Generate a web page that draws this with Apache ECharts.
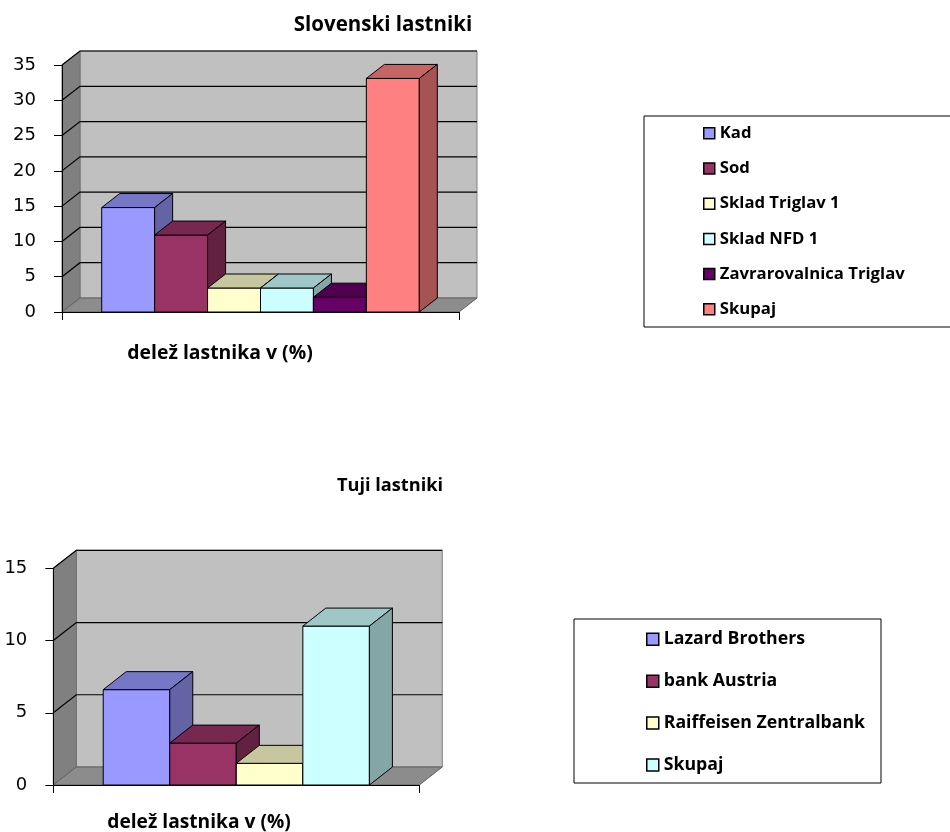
<!DOCTYPE html>
<html>
<head>
<meta charset="utf-8">
<script src="https://cdn.jsdelivr.net/npm/echarts@6/dist/echarts.min.js"></script>
<style>
  html, body { margin: 0; padding: 0; background: #fff; }
  #chart { width: 950px; height: 832px; }
</style>
</head>
<body>
<div id="chart"></div>
<script>
// Slovenski lastniki
const topNames = ['Kad', 'Sod', 'Sklad Triglav 1', 'Sklad NFD 1', 'Zavrarovalnica Triglav', 'Skupaj']
const topValues = [14.8, 10.9, 3.4, 3.4, 2.1, 33.1]
const topTicks = [0, 5, 10, 15, 20, 25, 30, 35]

// Tuji lastniki
const botNames = ['Lazard Brothers', 'bank Austria', 'Raiffeisen Zentralbank', 'Skupaj']
const botValues = [6.6, 2.9, 1.5, 11.0]
const botTicks = [0, 5, 10, 15]

const topColors = ['#9999FF', '#993366', '#FFFFCC', '#CCFFFF', '#660066', '#FF8080']
const botColors = ['#9999FF', '#993366', '#FFFFCC', '#CCFFFF']

const GAP = 0.75 // Excel gap width 150% -> 0.75 bar on each side
const FONT = '"Open Sans", "Noto Sans", sans-serif'

// darken a hex colour
const shade = (hex, f) => {
  const n = parseInt(hex.slice(1), 16)
  const r = Math.round(((n >> 16) & 255) * f)
  const g = Math.round(((n >> 8) & 255) * f)
  const b = Math.round((n & 255) * f)
  return `rgb(${r},${g},${b})`
}

// back wall, side wall, floor and gridlines of the 3D box
const wallRender = (dx, dy, xMax, ticks) => (params, api) => {
  const yMax = ticks[ticks.length - 1]
  const o = api.coord([0, 0])
  const tr = api.coord([xMax, yMax])
  const x0 = o[0], y0 = o[1], x1 = tr[0], y1 = tr[1]
  const children = [
    { type: 'rect', shape: { x: x0 + dx, y: y1 + dy, width: x1 - x0, height: y0 - y1 },
      style: { fill: '#C0C0C0', stroke: '#808080', lineWidth: 1 } },
    { type: 'polygon', shape: { points: [[x0, y0], [x0, y1], [x0 + dx, y1 + dy], [x0 + dx, y0 + dy]] },
      style: { fill: '#808080', stroke: '#707070', lineWidth: 1 } },
    { type: 'polygon', shape: { points: [[x0, y0], [x1, y0], [x1 + dx, y0 + dy], [x0 + dx, y0 + dy]] },
      style: { fill: '#8C8C8C', stroke: '#606060', lineWidth: 1 } }
  ]
  ticks.forEach(t => {
    if (t === 0) return
    const p = api.coord([0, t])
    children.push({
      type: 'polyline',
      shape: { points: [[x0, p[1]], [x0 + dx, p[1] + dy], [x1 + dx, p[1] + dy]] },
      style: { stroke: '#000', lineWidth: 1.2, fill: null }
    })
  })
  return { type: 'group', children }
}

// one 3D column: front, top and right faces
const barRender = (dx, dy) => (params, api) => {
  const color = api.visual('color')
  const bl = api.coord([api.value(0), 0])
  const tr = api.coord([api.value(0) + 1, api.value(1)])
  const l = bl[0], b = bl[1], r = tr[0], t = tr[1]
  const line = { stroke: '#000', lineWidth: 1 }
  return {
    type: 'group',
    children: [
      { type: 'polygon', shape: { points: [[l, b], [l, t], [r, t], [r, b]] },
        style: Object.assign({ fill: color }, line) },
      { type: 'polygon', shape: { points: [[l, t], [l + dx, t + dy], [r + dx, t + dy], [r, t]] },
        style: Object.assign({ fill: shade(color, 0.78) }, line) },
      { type: 'polygon', shape: { points: [[r, b], [r, t], [r + dx, t + dy], [r + dx, b + dy]] },
        style: Object.assign({ fill: shade(color, 0.65) }, line) }
    ]
  }
}

const makeSeries = (gridIndex, names, values, colors, dx, dy, ticks) => {
  const xMax = names.length + 2 * GAP
  const list = [{
    type: 'custom',
    xAxisIndex: gridIndex,
    yAxisIndex: gridIndex,
    renderItem: wallRender(dx, dy, xMax, ticks),
    data: [[0, 0]],
    silent: true,
    z: 1
  }]
  names.forEach((name, i) => {
    list.push({
      type: 'custom',
      name: name,
      xAxisIndex: gridIndex,
      yAxisIndex: gridIndex,
      itemStyle: { color: colors[i] },
      renderItem: barRender(dx, dy),
      data: [[GAP + i, values[i]]],
      z: 2
    })
  })
  return list
}

const makeAxes = (gridIndex, count, ticks) => {
  const axisLine = { show: true, lineStyle: { color: '#000', width: 1 } }
  const axisTick = { show: true, length: 8, lineStyle: { color: '#000' } }
  const xMax = count + 2 * GAP
  return {
    x: {
      type: 'value', gridIndex, min: 0, max: xMax, interval: xMax,
      axisLine, axisTick, axisLabel: { show: false }, splitLine: { show: false }, z: 5
    },
    y: {
      type: 'value', gridIndex, min: 0, max: ticks[ticks.length - 1], interval: ticks[1] - ticks[0],
      axisLine, axisTick, splitLine: { show: false }, z: 5,
      axisLabel: { color: '#000', fontFamily: 'DejaVu Sans', fontSize: 18, margin: 26 }
    }
  }
}

const topAxes = makeAxes(0, topNames.length, topTicks)
const botAxes = makeAxes(1, botNames.length, botTicks)

const legendText = (size) => ({
  color: '#000', fontFamily: FONT, fontWeight: 'bold', fontSize: size, lineHeight: 18
})

const legendData = (names, colors) => names.map((n, i) => ({
  name: n, icon: 'rect', itemStyle: { color: colors[i], borderColor: '#000', borderWidth: 1.5 }
}))

const label = (text, x, y, size) => ({
  type: 'text', x, y,
  style: { text, fill: '#000', font: `bold ${size}px ${FONT}`, align: 'center', verticalAlign: 'middle' }
})

const option = {
  animation: false,
  grid: [
    { left: 62, top: 65, width: 397, height: 247 },
    { left: 53.3, top: 568.3, width: 366, height: 216.7 }
  ],
  xAxis: [topAxes.x, botAxes.x],
  yAxis: [topAxes.y, botAxes.y],
  legend: [
    {
      data: legendData(topNames, topColors),
      orient: 'vertical', left: 703, top: 124.3, padding: 0,
      itemWidth: 11, itemHeight: 11, itemGap: 17.2, selectedMode: false,
      textStyle: legendText(16.7)
    },
    {
      data: legendData(botNames, botColors),
      orient: 'vertical', left: 646, top: 630.3, padding: 0,
      itemWidth: 12, itemHeight: 12, itemGap: 23.9, selectedMode: false,
      textStyle: legendText(17.7)
    }
  ],
  graphic: [
    { type: 'rect', shape: { x: 644, y: 116, width: 330, height: 211 },
      style: { fill: 'none', stroke: '#000', lineWidth: 1 } },
    { type: 'rect', shape: { x: 574, y: 619, width: 307, height: 164 },
      style: { fill: 'none', stroke: '#000', lineWidth: 1 } },
    label('Slovenski lastniki', 383, 25, 20.5),
    label('delež lastnika v (%)', 220, 353, 19.4),
    label('Tuji lastniki', 390, 486, 18.2),
    label('delež lastnika v (%)', 199, 823, 19.2)
  ],
  series: [
    ...makeSeries(0, topNames, topValues, topColors, 18, -14, topTicks),
    ...makeSeries(1, botNames, botValues, botColors, 23, -18, botTicks)
  ]
}

const chart = echarts.init(document.getElementById('chart'))
chart.setOption(option)
</script>
</body>
</html>
